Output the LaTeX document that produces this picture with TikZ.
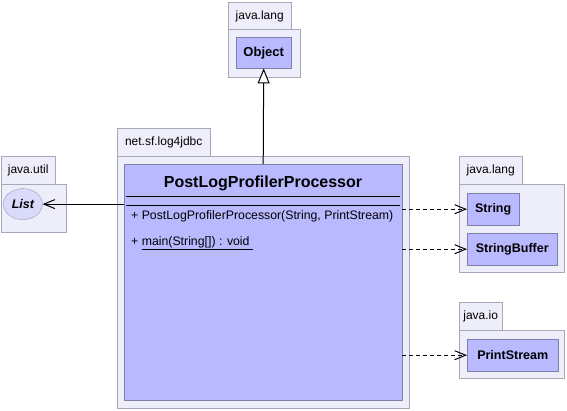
\documentclass[tikz,border=0pt]{standalone}
\usepackage{fontspec}
\setmainfont{Liberation Sans}
\usepackage{tikz}
\usetikzlibrary{positioning, arrows.meta, calc, shapes.geometric}
\definecolor{PkgFill}{RGB}{238,238,251}
\definecolor{PkgLine}{RGB}{168,168,186}
\definecolor{ClsFill}{RGB}{185,185,255}
\definecolor{ClsLine}{RGB}{128,128,172}
\definecolor{IfcFill}{RGB}{218,218,250}
\tikzset{
  pkgtab/.style={draw=PkgLine, fill=PkgFill, anchor=north west, inner sep=0pt,
    minimum height=28pt, font=\fontsize{12}{14}\selectfont},
  pkgbody/.style={draw=PkgLine, fill=PkgFill, anchor=north west, inner sep=0pt},
  clsbox/.style={draw=ClsLine, fill=ClsFill, anchor=north west, inner sep=0pt,
    font=\fontsize{12.5}{14}\selectfont\bfseries},
  ifcbox/.style={draw=ClsLine!80, fill=IfcFill, ellipse, anchor=north west, inner sep=0pt,
    font=\fontsize{12.5}{14}\selectfont\bfseries\itshape},
  member/.style={anchor=west, inner sep=0pt, font=\fontsize{12.3}{14}\selectfont},
  extends/.style={-{Triangle[open, length=15pt, width=12pt, fill=white]}, line width=1pt},
  assoc/.style={-{Straight Barb[length=11pt, width=9pt]}, line width=1pt},
  depends/.style={assoc, dash pattern=on 4pt off 3pt},
}

\begin{document}
\begin{tikzpicture}[x=1pt, y=-1pt]
  \useasboundingbox[fill=white] (0,0) rectangle (567,410);
  % java.lang (top)
  \node[pkgtab, minimum width=63pt] (langtab) at (228,2) {java.lang};
  \node[pkgbody, minimum width=72pt, minimum height=48pt] (lang) at (228,29) {};
  \node[clsbox, minimum width=55pt, minimum height=31pt, font=\fontsize{13}{14}\selectfont\bfseries] (obj) at (236,37) {Object};
  % java.util
  \node[pkgtab, minimum width=54pt] (utiltab) at (1,156) {java.util};
  \node[pkgbody, minimum width=65pt, minimum height=48pt] (util) at (1,184) {};
  \node[ifcbox, minimum width=39pt, minimum height=31pt] (lst) at (9,193) {List};
  % net.sf.log4jdbc
  \node[pkgtab, minimum width=93pt] (sftab) at (117,128) {net.sf.log4jdbc};
  \node[pkgbody, minimum width=292pt, minimum height=252pt] (sf) at (117,156) {};
  \node[clsbox, minimum width=278pt, minimum height=236pt] (cls) at (124,164) {};
  \node[font=\fontsize{16}{18}\selectfont\bfseries, inner sep=0pt] (clsname) at (263,183) {PostLogProfilerProcessor};
  \draw ($(cls.north west)+(2,32)$) -- ($(cls.north east)+(-2,32)$);
  \draw ($(cls.north west)+(2,41)$) -- ($(cls.north east)+(-2,41)$);
  \node[member] (ctor) at (131,216) {+ PostLogProfilerProcessor(String, PrintStream)};
  \node[member] (mainop) at (131,243) {+ \underline{main(String[]) : void\ }};
  % java.lang (right)
  \node[pkgtab, minimum width=63pt] (lang2tab) at (459,156) {java.lang};
  \node[pkgbody, minimum width=105pt, minimum height=88pt] (lang2) at (459,184) {};
  \node[clsbox, minimum width=52pt, minimum height=32pt] (str) at (467,193) {String};
  \node[clsbox, minimum width=90pt, minimum height=32pt] (sbuf) at (467,233) {StringBuffer};
  % java.io
  \node[pkgtab, minimum width=43pt] (iotab) at (459,302) {java.io};
  \node[pkgbody, minimum width=105pt, minimum height=48pt] (io) at (459,330) {};
  \node[clsbox, minimum width=91pt, minimum height=32pt] (pstream) at (467,339) {PrintStream};
  % connectors
  \draw[extends] (cls.north) -- (obj.south);
  \draw[assoc] (cls.west |- lst.east) -- (lst.east);
  \draw[depends] (cls.east |- str.west) -- (str.west);
  \draw[depends] (cls.east |- sbuf.west) -- (sbuf.west);
  \draw[depends] (cls.east |- pstream.west) -- (pstream.west);
\end{tikzpicture}
\end{document}
